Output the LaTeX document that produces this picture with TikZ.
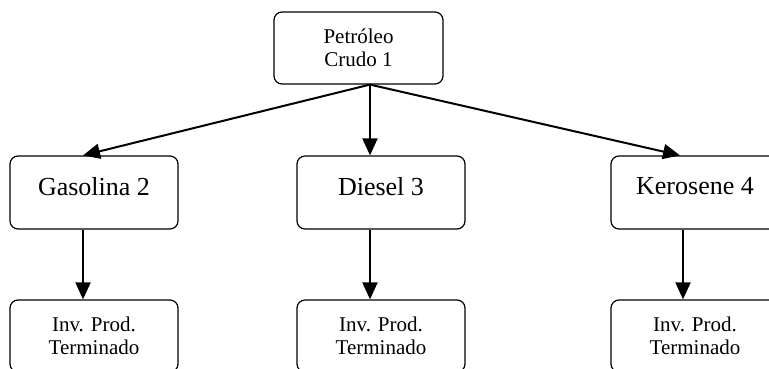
\documentclass[tikz,border=0pt]{standalone}
\usepackage{fontspec}
\setmainfont{Liberation Serif}
\usetikzlibrary{positioning,arrows,arrows.meta}

\begin{document}
\begin{tikzpicture}[x=1pt, y=-1pt]
\tikzstyle{every node}=[rectangle, draw, rounded corners=8pt, line width=1.2pt,
                        minimum width=168pt, minimum height=72pt, align=center]
\tikzstyle{big}=[font=\fontsize{26}{30}\selectfont, text depth=12.5pt, minimum height=73pt]
\tikzstyle{small}=[font=\fontsize{21}{23}\selectfont]
\tikzstyle{flow}=[line width=2pt, -{Triangle[length=17pt,width=15pt]}]
\path[use as bounding box] (0,0) rectangle (769,369);
\clip (0,0) rectangle (769,369);
\node[small, minimum width=169pt] (P) at (358.5,48) {Petróleo\\Crudo 1};
\node[big] (G) at (94,192.5) {Gasolina 2};
\node[big] (D) at (381,192.5) {Diesel 3};
\node[big] (K) at (695,192.5) {Kerosene 4};
\node[small] (IG) at (94,336) {Inv. Prod.\\Terminado};
\node[small] (ID) at (381,336) {Inv. Prod.\\Terminado};
\node[small] (IK) at (695,336) {Inv. Prod.\\Terminado};
\draw[flow] ([xshift=11.5pt]P.south) -- ([xshift=-11pt]G.north);
\draw[flow] ([xshift=11.5pt]P.south) -- ([xshift=-11pt]D.north);
\draw[flow] ([xshift=11.5pt]P.south) -- ([xshift=-15pt]K.north);
\draw[flow] ([xshift=-11pt]G.south) -- ([xshift=-11pt]IG.north);
\draw[flow] ([xshift=-11pt]D.south) -- ([xshift=-11pt]ID.north);
\draw[flow] ([xshift=-12pt]K.south) -- ([xshift=-12pt]IK.north);
\end{tikzpicture}
\end{document}
